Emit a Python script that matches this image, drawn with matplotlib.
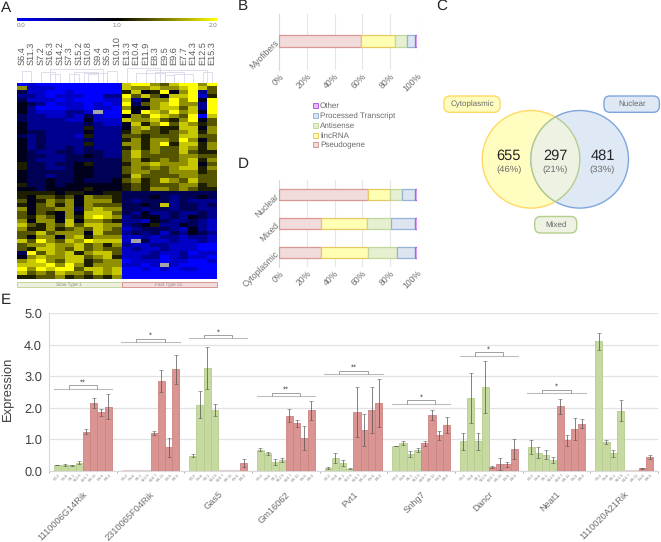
import numpy as np
import matplotlib
matplotlib.use("Agg")
import matplotlib.pyplot as plt
from matplotlib.colors import LinearSegmentedColormap
from matplotlib.patches import Circle, FancyBboxPatch, Patch, Rectangle
from matplotlib.transforms import ScaledTranslation

plt.rcParams['font.family'] = ['Liberation Sans', 'DejaVu Sans']
plt.rcParams['text.hinting'] = 'no_hinting'

W, H = 661, 542

# heatmap: digits 0-9 mean 0.0-2.0, x is a missing cell
heat_rows = [
    "01000000000 8997689979", "71110000000 8778778986", "31100100000 5845947926",
    "22101110022 9686488915", "31110100011 8247797949", "43201110101 9367897729",
    "42000110110 7447886829", "42111221x00 9498797849", "32211213100 4769876908",
    "32222114111 8778657946", "42222223211 4857968756", "42222225222 4786558847",
    "43322224222 5766567857", "32322215222 6656668866", "42322223222 5757769746",
    "42322225222 7757958857", "42322323222 5757668757", "43223323322 6867668655",
    "43322334322 6866667766", "43222333333 6756767857", "53323345333 5778777846",
    "53322344333 6767678857", "43333344333 6776677756", "43323344333 5866667766",
    "43343343334 6756876866", "53343444444 5656667756", "44344445444 5657767655",
    "55554554455 3333333333", "54665647665 3334323343", "64576747775 3233323222",
    "54675747666 3343823323", "74667737877 3323323322", "64654748886 3242232232",
    "65764758987 2344232432", "74774847765 2214322321", "86576868877 2345224321",
    "75575676876 1233321421", "66867774866 2323132432", "64774785777 1121221221",
    "86976879888 1x31121121", "67787786757 2112211100", "65887686766 1211211100",
    "39687857886 1112112011", "47877886785 1122012110", "78976885677 0111011001",
    "88897975777 1101x10000", "97989968878 0010101100", "86768776878 0000000000",
    "55667565657 0000000000",
]
heat_cols = ["S6.4", "S11.3", "S7.2", "S16.3", "S14.2", "S7.3", "S15.2", "S10.8", "S9.4", "S5.9", "S10.10",
             "E13.3", "E10.4", "E11.9", "E8.3", "E9.5", "E9.6", "E7.7", "E14.3", "E12.5", "E15.3"]
# dendrogram merges: left column, right column, height
dendro = [(0, 1, 0.78), (3, 4, 0.6), (2, 3.5, 0.72), (5, 6, 0.58), (7, 8, 0.58), (6.5, 9, 0.68),
          (9, 10, 0.8), (5.5, 8, 0.74), (3, 8.5, 0.95),
          (11, 14.5, 1.0), (12, 15, 0.66), (15, 16, 0.52), (16, 18, 0.6), (14, 17, 0.75), (19, 20, 0.72), (13, 19.5, 0.85)]

# stacked bars, panels B and D
rna_types = ["Pseudogene", "lincRNA", "Antisense", "Processed Transcript", "Other"]
myofibers = [59.5, 24.5, 8.5, 6.0, 1.5]
cytoplasmic = [30.0, 34.0, 21.0, 13.0, 2.0]
mixed = [30.5, 33.0, 17.5, 17.0, 2.0]
nuclear = [64.5, 15.5, 8.7, 9.3, 2.0]
pct_ticks = [0, 20, 40, 60, 80, 100]

# panel E
genes = ["1110006G14Rik", "2310065F04Rik", "Gas5", "Gm16062", "Pvt1", "Snhg7", "Dancr", "Neat1", "1110020A21Rik"]
samples = ["S3.2", "S4.6", "S6.1", "S12.5", "E10.7", "E8.11", "E4.5", "E9.3"]
expr = [
    [0.18, 0.18, 0.17, 0.26, 1.23, 2.15, 1.85, 2.03],
    [0, 0, 0, 0, 1.20, 2.84, 0.75, 3.22],
    [0.48, 2.10, 3.26, 1.93, 0, 0, 0, 0.24],
    [0.66, 0.55, 0.27, 0.34, 1.75, 1.51, 1.03, 1.92],
    [0.08, 0.40, 0.25, 0.06, 1.86, 1.29, 1.93, 2.15],
    [0.78, 0.87, 0.53, 0.66, 0.87, 1.77, 1.13, 1.44],
    [0.93, 2.31, 0.93, 2.66, 0.12, 0.21, 0.20, 0.68],
    [0.75, 0.57, 0.51, 0.34, 2.04, 0.97, 1.32, 1.49],
    [4.12, 0.90, 0.56, 1.91, 0, 0, 0.07, 0.43],
]
expr_err = [
    [0.01, 0.03, 0.02, 0.04, 0.08, 0.16, 0.10, 0.40],
    [0, 0, 0, 0, 0.07, 0.35, 0.30, 0.47],
    [0.04, 0.42, 0.68, 0.20, 0, 0, 0, 0.12],
    [0.05, 0.05, 0.09, 0.07, 0.20, 0.11, 0.38, 0.30],
    [0.04, 0.15, 0.10, 0.01, 0.80, 0.52, 0.74, 0.77],
    [0.01, 0.06, 0.10, 0.07, 0.07, 0.17, 0.14, 0.25],
    [0.28, 0.78, 0.28, 0.82, 0.04, 0.20, 0.08, 0.32],
    [0.23, 0.18, 0.15, 0.10, 0.25, 0.17, 0.35, 0.14],
    [0.27, 0.06, 0.11, 0.32, 0, 0, 0.03, 0.06],
]
sig_level = [2.60, 4.08, 4.20, 2.37, 3.07, 2.12, 3.65, 2.46]
sig_label = ["**", "*", "*", "**", "**", "*", "*", "*"]

grey = "#6a6a6a"
fills = ["#f2dcdb", "#ffffb3", "#e6f0d0", "#dce6f1", "#f0b3ff"]
edges = ["#d99694", "#e8c860", "#c3d69b", "#95b3d7", "#b060e0"]


def box(l, t, r, b):
    return [l / W, 1 - b / H, (r - l) / W, (b - t) / H]


fig = plt.figure(figsize=(W / 100, H / 100), dpi=100)
bg = fig.add_axes([0, 0, 1, 1])
bg.set_xlim(0, W)
bg.set_ylim(H, 0)
bg.axis("off")

for letter, x, y in [("A", 1, 8), ("B", 238, 6), ("C", 436, 6), ("D", 238, 164), ("E", 1, 300)]:
    bg.text(x, y, letter, fontsize=11, color="#262626", va="center")

# A: heatmap
bye = LinearSegmentedColormap.from_list("bye", ["#0000ff", "#000000", "#ffff00"])
bye.set_bad("#a6a6a6")
matrix = np.array([[np.nan if c == "x" else int(c) / 9 * 2 for c in r.replace(" ", "")] for r in heat_rows])

ax = fig.add_axes(box(17, 83, 217, 279.5))
ax.imshow(matrix, cmap=bye, vmin=0, vmax=2, aspect="auto", interpolation="nearest")
ax.axis("off")

cb = fig.add_axes(box(17, 18, 217, 21.5))
cb.imshow(np.linspace(0, 2, 256).reshape(1, -1), cmap=bye, aspect="auto")
cb.axis("off")
for x, s, ha in [(17, "0.0", "left"), (117, "1.0", "center"), (217, "2.0", "right")]:
    bg.text(x, 25.5, s, fontsize=4.5, color="#7f7f7f", ha=ha, va="center")

col_w = 200 / len(heat_cols)
for i, name in enumerate(heat_cols):
    bg.text(17 + (i + 0.5) * col_w, 65, name, rotation=90, fontsize=6.6, color="#595959", ha="center", va="bottom")
for a, b, h in dendro:
    xa = 17 + (a + 0.5) * col_w
    xb = 17 + (b + 0.5) * col_w
    top = 83 - h * 15
    bg.plot([xa, xa, xb, xb], [83, top, top, 83], color="#d8d8ea", lw=0.6)

bg.add_patch(Rectangle((17, 281.5), 104.5, 5.2, fc="#ebf1de", ec="#c3d69b", lw=0.7))
bg.add_patch(Rectangle((122, 281.5), 95, 5.2, fc="#f2dcdb", ec="#d99694", lw=0.7))
bg.text(69, 284.2, "Slow Type 1", fontsize=3.4, color="#8c8c8c", ha="center", va="center")
bg.text(169, 284.2, "Fast Type 2x", fontsize=3.4, color="#8c8c8c", ha="center", va="center")


# B and D: stacked bars
def stacked(ax, rows, names, height):
    for y, row in enumerate(rows):
        left = 0
        for k, v in enumerate(row):
            ax.barh(y, v, left=left, height=height, color=fills[k], edgecolor=edges[k], linewidth=0.9, zorder=3)
            left += v
    ax.set_xlim(0, 100)
    ax.set_xticks(pct_ticks)
    ax.set_xticklabels([f"{p}%" for p in pct_ticks], rotation=45, ha="right", rotation_mode="anchor",
                        fontsize=6.2, color=grey)
    # the reference labels run a little past their tick
    shift = ScaledTranslation(3 / 72, 0, fig.dpi_scale_trans)
    for lab in ax.get_xticklabels():
        lab.set_transform(lab.get_transform() + shift)
    ax.set_yticks(range(len(names)))
    ax.set_yticklabels(names, rotation=45, ha="right", rotation_mode="anchor", fontsize=6.2, color=grey)
    ax.grid(axis="x", color="#e6e6e6", lw=0.8, zorder=0)
    ax.tick_params(length=0, pad=1.5)
    for s in ["top", "right", "bottom"]:
        ax.spines[s].set_visible(False)
    ax.spines["left"].set_color("#d9d9d9")


ax_b = fig.add_axes(box(279.3, 14, 417.3, 70))
stacked(ax_b, [myofibers], ["Myofibers"], 0.21)
ax_b.set_ylim(-0.52, 0.48)

ax_d = fig.add_axes(box(279.3, 180, 417.3, 267))
stacked(ax_d, [cytoplasmic, mixed, nuclear], ["Cytoplasmic", "Mixed", "Nuclear"], 0.41)
ax_d.set_ylim(-0.5, 2.5)

handles = [Patch(facecolor=fills[k], edgecolor=edges[k], linewidth=0.7) for k in range(5)][::-1]
fig.legend(handles, rna_types[::-1], loc="upper left", bbox_to_anchor=(312.8 / W, 1 - 102.5 / H), frameon=False,
           fontsize=5.8, labelcolor=grey, handlelength=0.6, handleheight=0.6, handletextpad=0.3,
           labelspacing=0.3, borderpad=0, borderaxespad=0)

# C: venn
cx1, cx2, cy, rad = 531, 579.7, 159.3, 48.8
bg.add_patch(Circle((cx1, cy), rad, fc="#fffdbf", ec="#ffd966", lw=1))
bg.add_patch(Circle((cx2, cy), rad, fc="#dfe8f5", ec="#7ea6dc", lw=1))
clip1 = Circle((cx1, cy), rad, transform=bg.transData)
clip2 = Circle((cx2, cy), rad, transform=bg.transData)
p1 = bg.add_patch(Circle((cx2, cy), rad, fc="#edf2e3", ec="none"))
p1.set_clip_path(clip1)
p2 = bg.add_patch(Circle((cx1, cy), rad, fc="none", ec="#b5cd8e", lw=1))
p2.set_clip_path(clip2)
p3 = bg.add_patch(Circle((cx2, cy), rad, fc="none", ec="#b5cd8e", lw=1))
p3.set_clip_path(clip1)
venn = [(508.7, "655", "(46%)"), (555, "297", "(21%)"), (602.5, "481", "(33%)")]
for x, n, p in venn:
    bg.text(x, 156, n, fontsize=10.5, color="#262626", ha="center", va="center")
    bg.text(x, 169.5, p, fontsize=6.8, color=grey, ha="center", va="center")
pills = [(444, 96, 500, 112.3, "Cytoplasmic", "#fffdbf", "#ffd966"),
         (604, 96, 659.3, 112.3, "Nuclear", "#dfe8f5", "#7ea6dc"),
         (534.7, 216.5, 576.7, 233, "Mixed", "#edf2e3", "#b5cd8e")]
for l, t, r, b, s, fc, ec in pills:
    bg.add_patch(FancyBboxPatch((l + 6, t + 6), r - l - 12, b - t - 12, boxstyle="round,pad=6", fc=fc, ec=ec, lw=1))
    bg.text((l + r) / 2, (t + b) / 2, s, fontsize=5.8, color=grey, ha="center", va="center")

# E: bars per gene
ax_e = fig.add_axes(box(49, 313.3, 658, 470.7))
bw = 0.107
offs = (np.arange(8) - 3.5) * bw
for g in range(len(genes)):
    for j in range(8):
        c = "#c5d9a0" if j < 4 else "#da9593"
        e = "#b5cc8a" if j < 4 else "#cb8482"
        v = expr[g][j]
        if v > 0:
            ax_e.bar(g + offs[j], v, width=bw, color=c, edgecolor=e, linewidth=0.6, zorder=3)
            ax_e.errorbar(g + offs[j], v, yerr=expr_err[g][j], color="#4d4d4d", alpha=0.7, lw=0.7,
                          capsize=1.2, capthick=0.5, zorder=4)
        else:
            ax_e.plot([g + offs[j] - bw / 2, g + offs[j] + bw / 2], [0.01, 0.01], color="#e8cfcf", lw=0.8, zorder=3)
        ax_e.text(g + offs[j] + 0.02, -0.07, samples[j], rotation=45, ha="right", va="top",
                  rotation_mode="anchor", fontsize=2.9, color="#7f7f7f")
for g, (lev, s) in enumerate(zip(sig_level, sig_label)):
    ax_e.plot([g - 0.43, g + 0.43], [lev, lev], color="#bdbdbd", lw=0.8, zorder=3)
    ax_e.plot([g - 0.21, g - 0.21, g + 0.21, g + 0.21], [lev, lev + 0.11, lev + 0.11, lev], color="#a0a0a0", lw=0.7, zorder=3)
    ax_e.text(g, lev + 0.2, s, fontsize=5.5, color="#404040", ha="center", va="center", zorder=4)

ax_e.set_xlim(-0.5, 8.5)
ax_e.set_ylim(0, 5)
ax_e.set_yticks([0, 1, 2, 3, 4, 5])
ax_e.set_yticklabels(["0.0", "1.0", "2.0", "3.0", "4.0", "5.0"], fontsize=9.3, color="#404040")
ax_e.set_xticks(range(len(genes)))
ax_e.set_xticklabels(genes, rotation=45, ha="right", rotation_mode="anchor", fontsize=6.7, color=grey)
ax_e.set_xticks(np.arange(-0.5, 9), minor=True)
ax_e.tick_params(axis="x", which="major", length=0, pad=14)
ax_e.tick_params(axis="x", which="minor", length=1.5, color="#a6a6a6", width=0.6)
ax_e.tick_params(axis="y", length=0, pad=5)
ax_e.grid(axis="y", color="#e2e2e2", lw=0.9, zorder=0)
ax_e.set_axisbelow(True)
for s in ["top", "right"]:
    ax_e.spines[s].set_visible(False)
ax_e.spines["left"].set_color("#d9d9d9")
ax_e.spines["bottom"].set_color("#d9d9d9")
bg.text(8, 389, "Expression", rotation=90, fontsize=9.4, color="#404040", ha="center", va="center")

fig.savefig("out.png", dpi=100)
